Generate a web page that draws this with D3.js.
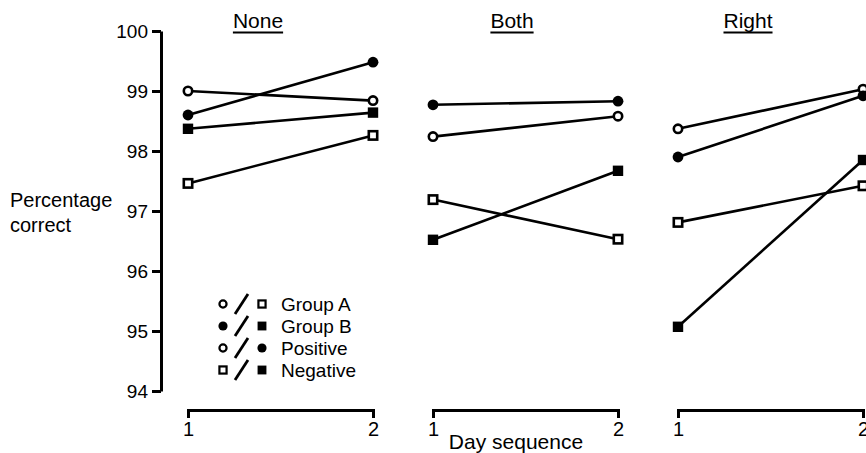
<!DOCTYPE html>
<html>
<head>
<meta charset="utf-8">
<script src="https://cdn.jsdelivr.net/npm/d3@7"></script>
<style>
  html, body { margin: 0; padding: 0; background: #fff; }
  svg { display: block; }
  text { font-family: "Liberation Sans", Arial, sans-serif; fill: #000; }
</style>
</head>
<body>
<svg id="chart" width="866" height="453"></svg>
<script>
// Percentage correct on day 1 and day 2, per cue condition
const panels = ["None", "Both", "Right"];
const days = [1, 2];
const yTicks = [94, 95, 96, 97, 98, 99, 100];

// one [day1, day2] pair per panel
const groupAPositive = [[99.00, 98.84], [98.24, 98.58], [98.37, 99.03]];
const groupBPositive = [[98.60, 99.48], [98.77, 98.83], [97.90, 98.92]];
const groupBNegative = [[98.37, 98.64], [96.52, 97.67], [95.07, 97.85]];
const groupANegative = [[97.46, 98.26], [97.19, 96.53], [96.81, 97.42]];

const legendLabels = ["Group A", "Group B", "Positive", "Negative"];
// symbol pairs drawn in front of each legend label
const legendSymbols = [["openCircle", "openSquare"], ["filledCircle", "filledSquare"],
                       ["openCircle", "filledCircle"], ["openSquare", "filledSquare"]];

const series = [
  { values: groupAPositive, symbol: "openCircle" },
  { values: groupBPositive, symbol: "filledCircle" },
  { values: groupBNegative, symbol: "filledSquare" },
  { values: groupANegative, symbol: "openSquare" }
];

const svg = d3.select("#chart");
const FONT = "'Liberation Sans', Arial, sans-serif";

// layout
const yTop = 31, yBottom = 391, axisX = 161;
const panelLeft = [188, 433, 678];
const panelWidth = 185;
const titleOffset = [70, 79, 70];
const bracketY = 410;

const y = d3.scaleLinear().domain([94, 100]).range([yBottom, yTop]);

// y axis
const yAxis = svg.append("g")
  .attr("transform", `translate(${axisX},0)`)
  .call(d3.axisLeft(y).tickValues(yTicks).tickFormat(d3.format("d"))
        .tickSizeInner(9).tickSizeOuter(0).tickPadding(4));
yAxis.select(".domain").attr("stroke", "#000").attr("stroke-width", 3);
yAxis.selectAll(".tick line").attr("stroke", "#000").attr("stroke-width", 3);
yAxis.selectAll(".tick text").style("font-size", "19px")
  .style("font-family", FONT).attr("fill", "#000");

// y label
const yLabel = svg.append("text").attr("x", 10).style("font-size", "20px");
yLabel.append("tspan").attr("x", 10).attr("y", 207).text("Percentage");
yLabel.append("tspan").attr("x", 10).attr("y", 232).text("correct");

function drawSymbol(g, type, cx, cy, s) {
  s = s || 1;
  if (type === "openCircle") {
    g.append("circle").attr("cx", cx).attr("cy", cy).attr("r", 4.2 * s)
      .attr("fill", "#fff").attr("stroke", "#000").attr("stroke-width", 2.6 * s);
  } else if (type === "filledCircle") {
    g.append("circle").attr("cx", cx).attr("cy", cy).attr("r", 5.4 * s).attr("fill", "#000");
  } else if (type === "openSquare") {
    const h = 4.2 * s;
    g.append("rect").attr("x", cx - h).attr("y", cy - h).attr("width", 2 * h).attr("height", 2 * h)
      .attr("fill", "#fff").attr("stroke", "#000").attr("stroke-width", 2.6 * s);
  } else {
    const h = 5.2 * s;
    g.append("rect").attr("x", cx - h).attr("y", cy - h).attr("width", 2 * h).attr("height", 2 * h)
      .attr("fill", "#000");
  }
}

panels.forEach((name, i) => {
  const x = d3.scaleLinear().domain([1, 2]).range([panelLeft[i], panelLeft[i] + panelWidth]);
  const g = svg.append("g");

  // bracket-style x axis
  const xAxis = svg.append("g")
    .attr("transform", `translate(0,${bracketY})`)
    .call(d3.axisBottom(x).tickValues(days).tickFormat(d3.format("d"))
          .tickSizeInner(0).tickSizeOuter(8).tickPadding(12));
  xAxis.select(".domain").attr("stroke", "#000").attr("stroke-width", 3);
  xAxis.selectAll(".tick line").remove();
  xAxis.selectAll(".tick text").style("font-size", "20px")
    .style("font-family", FONT).attr("fill", "#000");

  // panel title, underlined
  const tx = panelLeft[i] + titleOffset[i];
  const t = svg.append("text").attr("x", tx).attr("y", 28)
    .attr("text-anchor", "middle").style("font-size", "21px").text(name);
  const w = t.node().getComputedTextLength();
  svg.append("line").attr("x1", tx - w / 2).attr("x2", tx + w / 2)
    .attr("y1", 32.5).attr("y2", 32.5).attr("stroke", "#000").attr("stroke-width", 2);

  // lines first, then markers on top
  series.forEach(s => {
    const v = s.values[i];
    g.append("line")
      .attr("x1", x(days[0])).attr("y1", y(v[0]))
      .attr("x2", x(days[1])).attr("y2", y(v[1]))
      .attr("stroke", "#000").attr("stroke-width", 2.6);
  });
  series.forEach(s => {
    const v = s.values[i];
    days.forEach((d, k) => drawSymbol(g, s.symbol, x(d), y(v[k])));
  });
});

// x label
svg.append("text").attr("x", 516).attr("y", 449).attr("text-anchor", "middle")
  .style("font-size", "21px").text("Day sequence");

// legend
const legend = svg.append("g");
const legendY = d3.scalePoint().domain(legendLabels).range([304, 370]);
legendLabels.forEach((lab, i) => {
  const cy = legendY(lab);
  drawSymbol(legend, legendSymbols[i][0], 223, cy, 0.85);
  legend.append("line").attr("x1", 235).attr("y1", cy + 10).attr("x2", 248).attr("y2", cy - 10)
    .attr("stroke", "#000").attr("stroke-width", 2.8);
  drawSymbol(legend, legendSymbols[i][1], 262, cy, 0.85);
  legend.append("text").attr("x", 281).attr("y", cy + 7).style("font-size", "19px").text(lab);
});
</script>
</body>
</html>
